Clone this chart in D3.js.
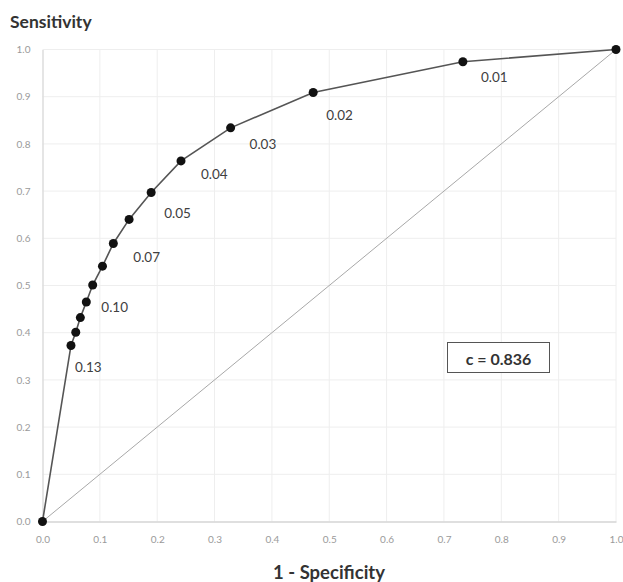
<!DOCTYPE html>
<html>
<head>
<meta charset="utf-8">
<script src="https://cdn.jsdelivr.net/npm/d3@7"></script>
<style>
  html, body { margin: 0; padding: 0; background: #fff; }
  svg { display: block; }
</style>
</head>
<body>
<svg id="chart" width="623" height="582"></svg>
<script>
// ---- data ----
const fpr = [0, 0.0497, 0.058, 0.066, 0.0764, 0.0875, 0.1046, 0.1235, 0.151, 0.1895, 0.2415, 0.328, 0.472, 0.733, 1.0];
const tpr = [0, 0.373, 0.401, 0.432, 0.465, 0.501, 0.541, 0.589, 0.640, 0.697, 0.764, 0.834, 0.909, 0.974, 1.0];
const thresholds = [null, "0.13", "0.12", "0.11", "0.10", "0.09", "0.08", "0.07", "0.06", "0.05", "0.04", "0.03", "0.02", "0.01", null];
const shownLabels = ["0.13", "0.10", "0.07", "0.05", "0.04", "0.03", "0.02", "0.01"];
const tickValues = [0, 0.1, 0.2, 0.3, 0.4, 0.5, 0.6, 0.7, 0.8, 0.9, 1.0];
const tickLabels = ["0.0", "0.1", "0.2", "0.3", "0.4", "0.5", "0.6", "0.7", "0.8", "0.9", "1.0"];
const yTitle = "Sensitivity";
const xTitle = "1 - Specificity";
const cText = "c = 0.836";

// ---- layout ----
const svg = d3.select("#chart");
const x = d3.scaleLinear().domain([0, 1]).range([42.5, 616]);
const y = d3.scaleLinear().domain([0, 1]).range([521.5, 49.5]);
const font = "Lato, 'Open Sans', sans-serif";

// label offsets (px) relative to the point
const labelOffset = {
  "0.01": [18, 15], "0.02": [13, 23], "0.03": [19, 16], "0.04": [20, 13],
  "0.05": [13, 20], "0.07": [20, 14], "0.10": [15, 5], "0.13": [4, 22]
};

// gridlines
const grid = svg.append("g");
grid.selectAll("line.v").data(tickValues.slice(1)).join("line")
  .attr("x1", d => x(d)).attr("x2", d => x(d))
  .attr("y1", y(0)).attr("y2", y(1))
  .attr("stroke", "#eeeeee").attr("stroke-width", 1);
grid.selectAll("line.h").data(tickValues.slice(1)).join("line")
  .attr("x1", x(0)).attr("x2", x(1))
  .attr("y1", d => y(d)).attr("y2", d => y(d))
  .attr("stroke", "#eeeeee").attr("stroke-width", 1);

// axes
const xAxis = d3.axisBottom(x).tickValues(tickValues).tickSize(0)
  .tickFormat((d, i) => tickLabels[i]).tickPadding(14);
const gx = svg.append("g").attr("transform", `translate(0,${y(0)})`).call(xAxis);
gx.select(".domain").attr("stroke", "#d4d4d4").attr("stroke-width", 1.5);
gx.selectAll("text").attr("font-family", font).attr("font-size", 10).attr("fill", "#9a9a9a");

const yAxis = d3.axisLeft(y).tickValues(tickValues).tickSize(0)
  .tickFormat((d, i) => tickLabels[i]).tickPadding(12);
const gy = svg.append("g").attr("transform", `translate(${x(0)},0)`).call(yAxis);
gy.select(".domain").attr("stroke", "#dcdcdc").attr("stroke-width", 1.5);
gy.selectAll("text").attr("font-family", font).attr("font-size", 10).attr("fill", "#9a9a9a");

// diagonal reference line
svg.append("line")
  .attr("x1", x(0)).attr("y1", y(0)).attr("x2", x(1)).attr("y2", y(1))
  .attr("stroke", "#a8a8a8").attr("stroke-width", 1);

// ROC curve
const pts = fpr.map((d, i) => ({ x: d, y: tpr[i], t: thresholds[i] }));
svg.append("path")
  .datum(pts)
  .attr("d", d3.line().x(d => x(d.x)).y(d => y(d.y)))
  .attr("fill", "none").attr("stroke", "#555555").attr("stroke-width", 1.6);

svg.selectAll("circle.pt").data(pts).join("circle")
  .attr("cx", d => x(d.x)).attr("cy", d => y(d.y)).attr("r", 4.5)
  .attr("fill", "#111111");

// threshold labels
svg.selectAll("text.lbl").data(pts.filter(d => shownLabels.includes(d.t))).join("text")
  .attr("x", d => x(d.x) + labelOffset[d.t][0])
  .attr("y", d => y(d.y) + labelOffset[d.t][1])
  .attr("dominant-baseline", "central")
  .attr("font-family", font).attr("font-size", 13.5).attr("fill", "#404040")
  .text(d => d.t);

// c statistic box
svg.append("rect")
  .attr("x", 447.5).attr("y", 342.5).attr("width", 102).attr("height", 30)
  .attr("fill", "#fff").attr("stroke", "#555").attr("stroke-width", 1);
svg.append("text")
  .attr("x", 498.5).attr("y", 358).attr("text-anchor", "middle").attr("dominant-baseline", "central")
  .attr("font-family", font).attr("font-weight", "bold").attr("font-size", 16).attr("fill", "#333")
  .text(cText);

// titles
svg.append("text").attr("x", 10).attr("y", 21).attr("dominant-baseline", "central")
  .attr("font-family", font).attr("font-weight", "bold").attr("font-size", 17.5).attr("fill", "#333")
  .text(yTitle);
svg.append("text").attr("x", 329).attr("y", 572).attr("text-anchor", "middle").attr("dominant-baseline", "central")
  .attr("font-family", font).attr("font-weight", "bold").attr("font-size", 18.5).attr("fill", "#333")
  .text(xTitle);
</script>
</body>
</html>
